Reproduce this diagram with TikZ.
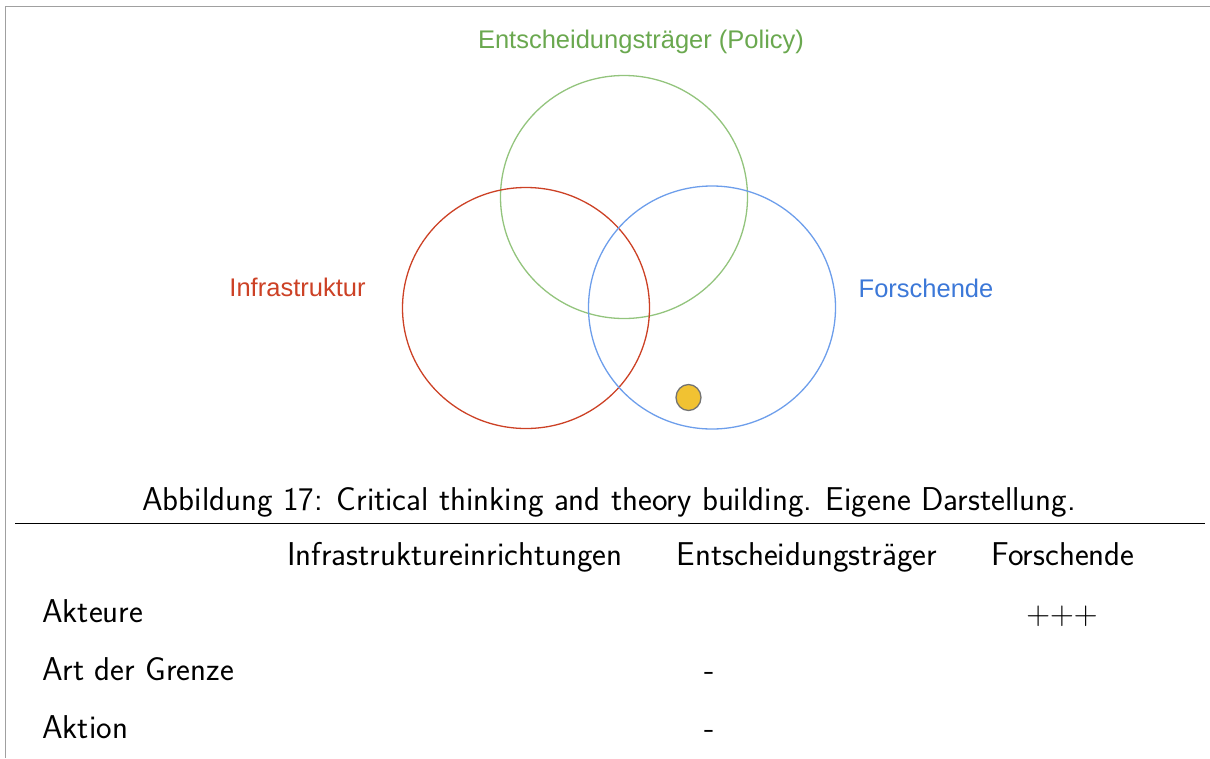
\documentclass[tikz,border=0pt]{standalone}
\usepackage{fontspec}
\usepackage{xcolor}
\usepackage{tikz}
\usetikzlibrary{positioning, shapes.geometric}
\newfontfamily\vennfont{Liberation Sans}
\definecolor{venngreen}{HTML}{93C47D}
\definecolor{venngreentext}{HTML}{6AA84F}
\definecolor{vennred}{HTML}{CC4125}
\definecolor{vennblue}{HTML}{6D9EEB}
\definecolor{vennbluetext}{HTML}{3C78D8}
\definecolor{dotyellow}{HTML}{F1C232}
\definecolor{frameline}{HTML}{A0A0A0}

\begin{document}
\begin{tikzpicture}[
  x=1pt, y=-1pt,
  ring/.style={line width=1.3pt},
  vennlabel/.style={font=\vennfont\fontsize{25.5}{30}\selectfont, inner sep=0pt},
  cell/.style={font=\sffamily\fontsize{33}{40}\selectfont, inner sep=0pt, anchor=base},
  rowhead/.style={cell, anchor=base west}
]
\useasboundingbox (0,0) rectangle (1210,758);

% frame of the page crop
\draw[frameline, line width=1.6pt] (5.5,758) -- (5.5,6.5) -- (1210,6.5);

% venn diagram
\node[ring, draw=venngreen, ellipse, minimum width=247pt, minimum height=243pt, inner sep=0pt] (policy) at (624,197) {};
\node[ring, draw=vennred, ellipse, minimum width=247pt, minimum height=241pt, inner sep=0pt] (infra) at (526,308) {};
\node[ring, draw=vennblue, ellipse, minimum width=247pt, minimum height=243pt, inner sep=0pt] (research) at (712,307.5) {};

\node[vennlabel, text=venngreentext] (policylabel) at (641,42) {Entscheidungsträger (Policy)};
\node[vennlabel, text=vennred] (infralabel) at (297.5,287.5) {Infrastruktur};
\node[vennlabel, text=vennbluetext] (researchlabel) at (926,288) {Forschende};

\node[draw=black!55, line width=1.3pt, fill=dotyellow, ellipse, minimum width=25pt, minimum height=26pt, inner sep=0pt] (dot) at (688.5,397.5) {};

% caption and table
\node[cell] (caption) at (609,510) {Abbildung 17: Critical thinking and theory building. Eigene Darstellung.};
\coordinate (rulel) at (15,523);
\coordinate (ruler) at (1205,523);
\draw[line width=1pt] (rulel) -- (ruler);

\node[cell] (colinfra) at (455,565) {Infrastruktureinrichtungen};
\node[cell] (colpolicy) at (807,565) {Entscheidungsträger};
\node[cell] (colresearch) at (1063,565) {Forschende};

\node[rowhead] (rowactors) at (42,622) {Akteure};
\node[rowhead] (rowborder) at (42,680) {Art der Grenze};
\node[rowhead] (rowaction) at (42,738) {Aktion};

\node[cell, font=\rmfamily\fontsize{33}{40}\selectfont] (actorsresearch) at (1062,624) {+++};
\node[cell] (borderpolicy) at (709.5,680) {-};
\node[cell] (actionpolicy) at (709.5,738) {-};
\end{tikzpicture}
\end{document}
